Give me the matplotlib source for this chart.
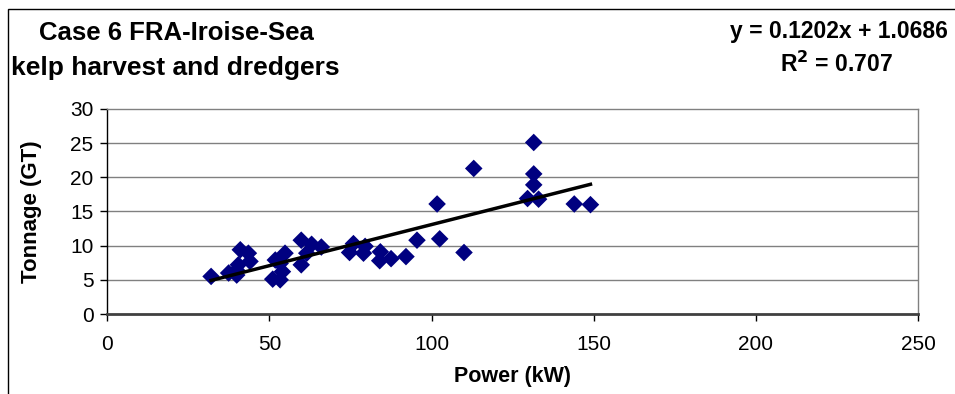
import numpy as np
import matplotlib as mpl
mpl.use('Agg')
import matplotlib.pyplot as plt
from matplotlib.patches import Rectangle

plt.rc('font', family=['Liberation Sans', 'DejaVu Sans'])

# data
power = [32, 37.4, 39.9, 39.9, 40.4, 41, 43.5, 44, 51, 51.8, 53.3, 53.3, 54, 54.8,
         59.8, 59.8, 61.5, 63, 66, 74.7, 75.9, 79, 79.5, 84, 84.2, 87.5, 92.1,
         95.5, 101.7, 102.5, 110, 113, 129.6, 131.5, 131.5, 131.5, 133, 144, 149]
tonnage = [5.5, 6.0, 6.4, 5.7, 7.2, 9.4, 8.9, 7.7, 5.1, 7.9, 5.0, 7.4, 6.2, 8.9,
           10.8, 7.2, 8.9, 10.2, 9.8, 9.0, 10.3, 8.9, 9.9, 7.8, 9.1, 8.1, 8.4,
           10.8, 16.1, 11.0, 9.0, 21.3, 16.9, 25.1, 20.5, 18.9, 16.8, 16.1, 16.0]
slope, intercept = 0.1202, 1.0686
xticks = [0, 50, 100, 150, 200, 250]
yticks = [0, 5, 10, 15, 20, 25, 30]

fig = plt.figure(figsize=(9.55, 3.94), dpi=100)
ax = fig.add_axes([0.1124, 0.203, 0.8488, 0.5204])

# chart area border (only top/left visible)
fig.patches.append(Rectangle((8 / 955, -0.1), 1.2, 1.1 - 9 / 394,
                             transform=fig.transFigure, fill=False,
                             edgecolor='black', linewidth=1.0))

for y in yticks[1:-1]:
    ax.axhline(y, color='#808080', linewidth=1.0, zorder=1)

ax.scatter(power, tonnage, marker='D', s=80, color='#000080',
           edgecolors='none', zorder=3, clip_on=False)
xl = np.array([min(power), max(power)])
ax.plot(xl, slope * xl + intercept, color='black', linewidth=2.5, zorder=4)

ax.set_xlim(0, 250)
ax.set_ylim(0, 30)
ax.set_xticks(xticks)
ax.set_yticks(yticks)
ax.tick_params(axis='both', direction='out', length=5, width=1.0,
               labelsize=15, color='black', pad=5)
ax.tick_params(axis='x', pad=10)
for s in ['top', 'right']:
    ax.spines[s].set_color('#808080')
    ax.spines[s].set_linewidth(1.0)
ax.spines['left'].set_linewidth(1.0)
ax.spines['bottom'].set_linewidth(2.0)
ax.spines['bottom'].set_color('#404040')

ax.set_xlabel('Power (kW)', fontsize=15.5, fontweight='bold', labelpad=9)
ax.set_ylabel('Tonnage (GT)', fontsize=16, fontweight='bold', labelpad=20)

fig.text(0.041, 0.916, 'Case 6 FRA-Iroise-Sea', fontsize=18.5, fontweight='bold',
         ha='left', va='center')
fig.text(0.012, 0.827, 'kelp harvest and dredgers', fontsize=19,
         fontweight='bold', ha='left', va='center')
fig.text(0.993, 0.921, 'y = 0.1202x + 1.0686', fontsize=16.5, fontweight='bold',
         ha='right', va='center')
fig.text(0.876, 0.836, r'R$^{\mathbf{2}}$ = 0.707', fontsize=16.5,
         fontweight='bold', ha='center', va='center')

fig.savefig('out.png', dpi=100)
